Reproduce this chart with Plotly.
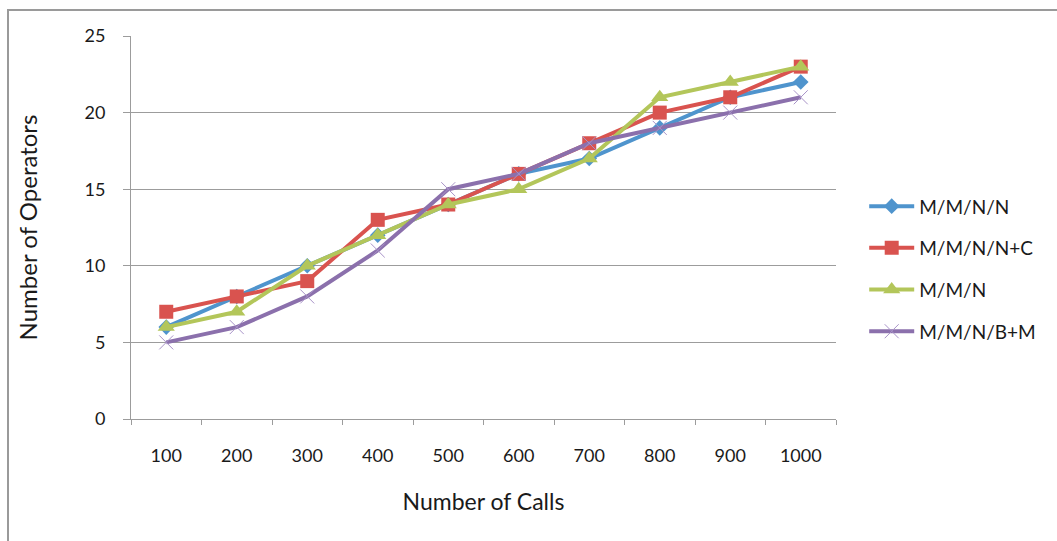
import plotly.graph_objects as go

# Number of calls (category axis)
calls = ["100", "200", "300", "400", "500", "600", "700", "800", "900", "1000"]

# Required operators for each queueing model
mmnn = [6, 8, 10, 12, 14, 16, 17, 19, 21, 22]
mmnn_c = [7, 8, 9, 13, 14, 16, 18, 20, 21, 23]
mmn = [6, 7, 10, 12, 14, 15, 17, 21, 22, 23]
mmnbm = [5, 6, 8, 11, 15, 16, 18, 19, 20, 21]

series = [
    ("M/M/N/N", mmnn, "#4F94CD", dict(symbol="diamond", size=12)),
    ("M/M/N/N+C", mmnn_c, "#D9534F", dict(symbol="square", size=14)),
    ("M/M/N", mmn, "#B3C65A", dict(symbol="triangle-up", size=15)),
    ("M/M/N/B+M", mmnbm, "#8B70AC",
     dict(symbol="x-thin", size=14, line=dict(width=1, color="#A893C8"))),
]

FONT = "Lato, 'Open Sans', sans-serif"
GRID = "#9c9c9c"

fig = go.Figure()
for i, (name, vals, color, marker) in enumerate(series):
    mk = dict(color=color)
    mk.update(marker)
    fig.add_trace(go.Scatter(
        x=calls, y=vals, name=name, mode="lines+markers",
        line=dict(color=color, width=4),
        marker=mk, legendgroup=f"g{i}",
    ))

fig.update_layout(
    width=1057, height=541,
    margin=dict(l=131, r=221, t=36, b=122),
    paper_bgcolor="white", plot_bgcolor="white",
    font=dict(family=FONT, size=18, color="#1a1a1a"),
    showlegend=True,
    legend=dict(
        x=1.04, xanchor="left", y=0.605, yanchor="top",
        traceorder="grouped", tracegroupgap=14,
        font=dict(size=19), itemwidth=45,
        bgcolor="rgba(0,0,0,0)",
    ),
    shapes=[
        # outer chart border
        dict(type="rect", xref="paper", yref="paper",
             x0=(8 - 131) / 705, x1=1.6, y0=-0.6, y1=(419 - 10) / 383,
             line=dict(color="#9a9a9a", width=2), fillcolor="rgba(0,0,0,0)",
             layer="below"),
    ],
)

fig.update_xaxes(
    type="category", range=[-0.5, 9.5],
    showline=True, linecolor=GRID, linewidth=1,
    ticks="outside", tickson="boundaries", ticklen=5, tickcolor=GRID,
    showgrid=False, ticklabelstandoff=20,
    title=dict(text="Number of Calls", font=dict(size=23), standoff=29),
)
fig.update_yaxes(
    range=[0, 25], dtick=5, tick0=0,
    showline=True, linecolor=GRID, linewidth=1,
    ticks="outside", ticklen=7, tickcolor=GRID,
    showgrid=True, gridcolor=GRID, gridwidth=1, zeroline=False,
    ticklabelstandoff=14,
    title=dict(text="Number of Operators", font=dict(size=24), standoff=40),
)

fig.write_html("out.html")
